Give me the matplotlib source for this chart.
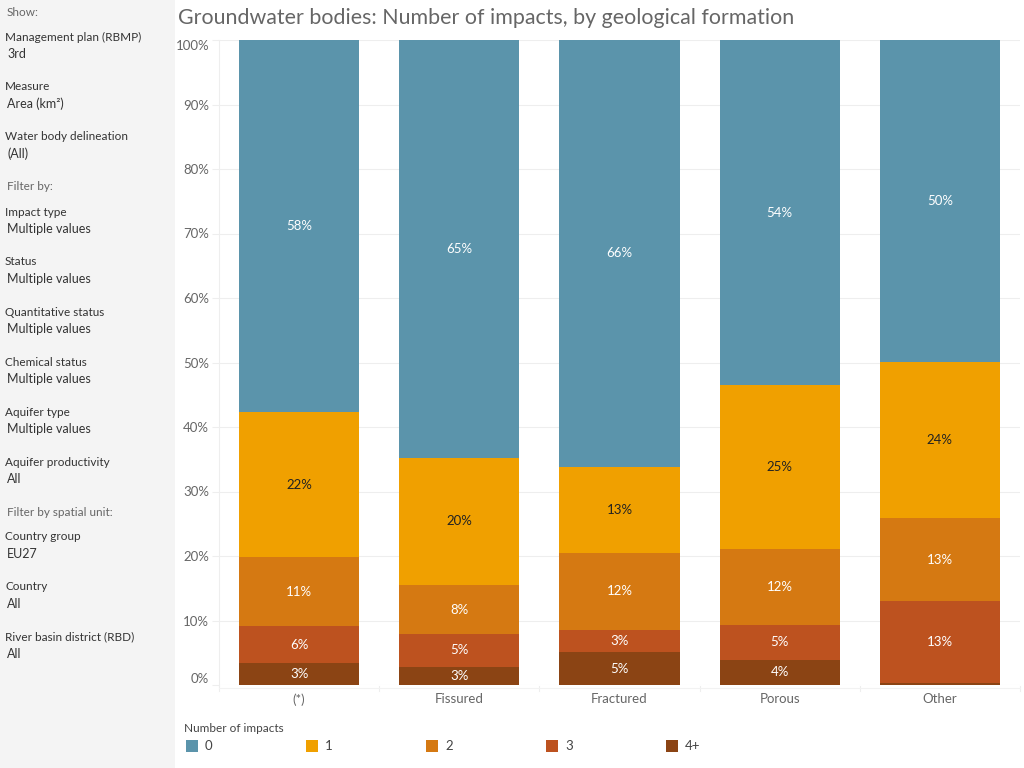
import numpy as np
import matplotlib.pyplot as plt
from matplotlib.patches import Rectangle

plt.rcParams['font.family'] = ['Lato', 'DejaVu Sans']

# data (share of area, %)
formations = ['(*)', 'Fissured', 'Fractured', 'Porous', 'Other']
impact_levels = ['0', '1', '2', '3', '4+']
share_0 = [57.7, 64.8, 66.2, 53.5, 49.9]
share_1 = [22.5, 19.7, 13.3, 25.4, 24.2]
share_2 = [10.7, 7.6, 12.0, 11.8, 12.9]
share_3 = [5.7, 5.1, 3.4, 5.4, 12.7]
share_4 = [3.4, 2.8, 5.1, 3.9, 0.3]
labels_0 = ['58%', '65%', '66%', '54%', '50%']
labels_1 = ['22%', '20%', '13%', '25%', '24%']
labels_2 = ['11%', '8%', '12%', '12%', '13%']
labels_3 = ['6%', '5%', '3%', '5%', '13%']
labels_4 = ['3%', '3%', '5%', '4%', '']

colors = ['#5b94ab', '#f0a000', '#d57912', '#bd521f', '#8b4414']
label_colors = ['white', '#222222', 'white', 'white', 'white']

filters = [
    ('Show:', None, True),
    ('Management plan (RBMP)', '3rd', False),
    ('Measure', 'Area (km²)', False),
    ('Water body delineation', '(All)', False),
    ('Filter by:', None, True),
    ('Impact type', 'Multiple values', False),
    ('Status', 'Multiple values', False),
    ('Quantitative status', 'Multiple values', False),
    ('Chemical status', 'Multiple values', False),
    ('Aquifer type', 'Multiple values', False),
    ('Aquifer productivity', 'All', False),
    ('Filter by spatial unit:', None, True),
    ('Country group', 'EU27', False),
    ('Country', 'All', False),
    ('River basin district (RBD)', 'All', False),
]

W, H = 1024, 768
fig = plt.figure(figsize=(W / 100, H / 100), dpi=100)
fig.patch.set_facecolor('white')

# left filter panel
fig.patches.append(Rectangle((0, 0), 175 / W, 1, transform=fig.transFigure,
                             facecolor='#f4f4f4', edgecolor='none', zorder=0))
y = 12
for name, value, header in filters:
    if header:
        fig.text(7 / W, 1 - y / H, name, fontsize=8.5, color='#666666', va='center')
        y += 25
    else:
        fig.text(5 / W, 1 - y / H, name, fontsize=8.5, color='#333333', va='center')
        fig.text(7 / W, 1 - (y + 17) / H, value, fontsize=9, color='#333333', va='center')
        y += 50

fig.text(178 / W, 1 - 18 / H, 'Groundwater bodies: Number of impacts, by geological formation',
         fontsize=15.4, color='#666666', va='center')

ax = fig.add_axes([219 / W, 83 / H, 801 / W, 645 / H])
ax.set_xlim(-0.5, 4.5)
ax.set_ylim(0, 100)

x = np.arange(len(formations))
series = [share_0, share_1, share_2, share_3, share_4]
texts = [labels_0, labels_1, labels_2, labels_3, labels_4]
bottom = np.zeros(len(formations))
# stack from 4+ at the bottom up to 0 at the top
for k in range(4, -1, -1):
    vals = np.array(series[k])
    ax.bar(x, vals, bottom=bottom, width=0.75, color=colors[k], zorder=2)
    for i in range(len(formations)):
        if texts[k][i]:
            ax.text(x[i], bottom[i] + vals[i] / 2, texts[k][i], ha='center', va='center',
                    fontsize=9.5, color=label_colors[k], zorder=3)
    bottom += vals

ax.set_yticks(np.arange(0, 101, 10))
ax.set_yticklabels([f'{v}%' for v in range(0, 101, 10)])
ax.yaxis.grid(True, color='#eeeeee', linewidth=0.8, zorder=0)
ax.set_xticks(x)
ax.set_xticklabels(formations)
ax.tick_params(axis='x', length=0, labelsize=9.5, labelcolor='#666666', pad=6)
ax.tick_params(axis='y', length=5, color='#eeeeee', labelsize=9.5, labelcolor='#666666', pad=2)
ylabs = ax.get_yticklabels()
ylabs[0].set_va('bottom')
ylabs[-1].set_va('top')
for s in ['top', 'right', 'bottom']:
    ax.spines[s].set_visible(False)
ax.spines['left'].set_color('#eeeeee')
# faint category separators under the axis
for b in np.arange(-0.5, 4.6, 1.0):
    ax.plot([b, b], [-0.2, -0.9], color='#eeeeee', linewidth=0.8, clip_on=False)
ax.axhline(-0.4, color='#f2f2f2', linewidth=0.8, clip_on=False)

# legend
fig.text(184 / W, 1 - 728 / H, 'Number of impacts', fontsize=8.5, color='#444444', va='center')
for k, lev in enumerate(impact_levels):
    lx = 186 + 120 * k
    fig.patches.append(Rectangle((lx / W, 1 - 752 / H), 12 / W, 12 / H, transform=fig.transFigure,
                                 facecolor=colors[k], edgecolor='none'))
    fig.text((lx + 19) / W, 1 - 746 / H, lev, fontsize=9.5, color='#444444', va='center')

fig.savefig('out.png', dpi=100)
